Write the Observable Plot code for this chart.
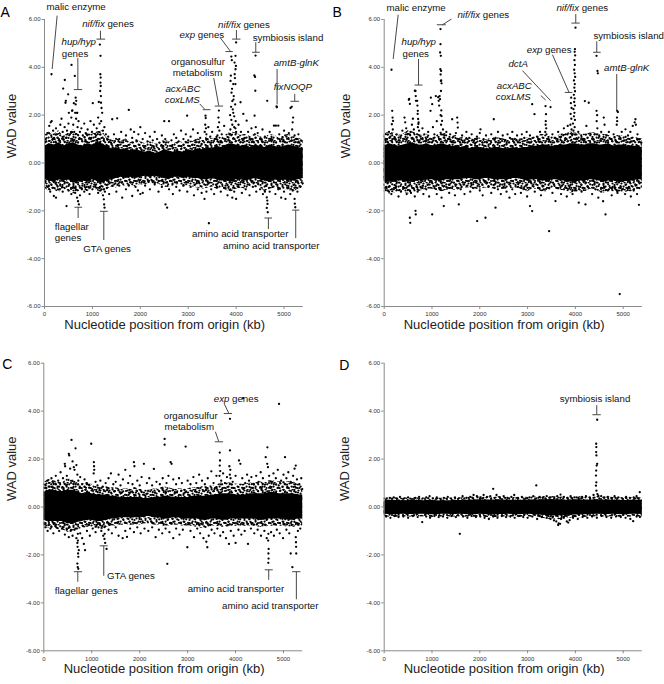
<!DOCTYPE html>
<html><head><meta charset="utf-8">
<script src="https://cdn.jsdelivr.net/npm/d3@7"></script>
<script src="https://cdn.jsdelivr.net/npm/@observablehq/plot@0.6"></script>
<style>
body{margin:0;background:#fff;}
#wrap{position:relative;width:664px;height:684px;background:#fff;}
.panel{position:absolute;width:332px;height:342px;}
</style></head><body><div id="wrap"></div>
<script>
// ---------- shared ticks / titles ----------
const kbTicks = [0,1000,2000,3000,4000,5000];
const wadTicks = [-6,-4,-2,0,2,4,6];
const xTitle = "Nucleotide position from origin (kb)";
const yTitle = "WAD value";

// sampling grid (kb) for the envelope of the dense cloud of genes
const coreKb = [0,100,200,300,400,500,600,700,800,900,1000,1100,1200,1300,1400,1500,1600,1700,1800,1900,2000,2100,2200,2300,2400,2500,2600,2700,2800,2900,3000,3100,3200,3300,3400,3500,3600,3700,3800,3900,4000,4100,4200,4300,4400,4500,4600,4700,4800,4900,5000,5100,5200,5300,5400];

// ---------- panel A ----------
const coreHiA = [0.7,0.8,0.75,0.85,0.7,0.8,0.85,0.75,0.7,0.8,0.75,0.85,0.8,0.7,0.6,0.65,0.55,0.6,0.5,0.55,0.5,0.45,0.5,0.4,0.45,0.55,0.5,0.45,0.5,0.45,0.55,0.5,0.6,0.55,0.65,0.6,0.7,0.65,0.75,0.8,0.75,0.7,0.75,0.65,0.75,0.7,0.65,0.75,0.7,0.65,0.7,0.75,0.7,0.65,0.6];
const coreLoA = [-0.7,-0.75,-0.8,-0.7,-0.75,-0.7,-0.85,-0.8,-0.75,-0.8,-0.7,-0.75,-0.85,-0.75,-0.7,-0.65,-0.6,-0.65,-0.6,-0.65,-0.6,-0.55,-0.6,-0.55,-0.6,-0.65,-0.7,-0.6,-0.6,-0.65,-0.6,-0.65,-0.65,-0.7,-0.7,-0.65,-0.7,-0.75,-0.75,-0.8,-0.7,-0.7,-0.75,-0.7,-0.65,-0.7,-0.75,-0.8,-0.7,-0.75,-0.7,-0.75,-0.75,-0.7,-0.65];
const haloHiA = [1.15,1.3,1.2,1.35,1.1,1.25,1.4,1.2,1.1,1.25,1.2,1.3,1.35,1.05,0.95,1.05,0.9,1.0,0.85,0.95,0.9,0.8,0.9,0.8,0.85,0.95,0.9,0.8,0.9,0.85,0.95,0.9,1.0,0.95,1.1,1.0,1.15,1.05,1.2,1.3,1.25,1.15,1.2,1.1,1.2,1.1,1.05,1.2,1.15,1.05,1.15,1.2,1.1,1.05,0.95];
const haloLoA = [-1.05,-1.2,-1.1,-1.25,-1.05,-1.15,-1.3,-1.2,-1.1,-1.2,-1.05,-1.15,-1.3,-1.1,-1.0,-1.05,-0.9,-1.0,-0.95,-1.0,-0.9,-0.95,-0.85,-0.9,-0.9,-1.0,-1.05,-0.95,-0.9,-1.0,-0.95,-1.0,-1.05,-1.1,-1.05,-1.0,-1.1,-1.05,-1.15,-1.2,-1.1,-1.05,-1.1,-1.0,-1.05,-1.0,-1.2,-1.1,-1.05,-1.15,-1.1,-1.15,-1.2,-1.1,-1.0];
const ptsA = [
[146,3.71],[564,4.1],[633,3.64],[424,3.47],[390,3.11],[494,2.87],[438,2.52],[612,2.5],[662,2.6],[650,2.73],[577,2.18],[682,2.1],
[60,1.25],[100,1.55],[130,1.7],[150,1.75],[180,1.35],[200,1.05],[240,1.45],[260,1.2],[300,1.0],[330,1.6],[355,1.85],[380,1.3],[400,1.1],[420,1.5],[445,2.6],[470,1.35],[500,1.65],[508,2.1],[530,1.2],[560,1.9],[580,2.2],[600,1.6],[640,2.1],[650,2.45],[660,1.85],[680,2.1],[690,1.5],[710,1.75],[740,1.3],[770,1.45],[800,1.15],[830,1.65],[860,1.25],[900,1.4],[940,1.05],[960,1.75],[990,1.3],[1008,2.5],[1030,1.6],[1060,1.2],[1090,1.45],[1120,1.9],[1134,2.55],[1150,1.65],[1183,1.75],[1204,2.1],[1220,1.35],[1250,1.5],[1280,1.2],
[1155,4.95],[1169,4.48],[1165,3.71],[1172,3.57],[1168,3.36],[1175,3.22],[1162,3.01],[1178,2.8],[1180,2.52],[1190,2.3],
[1330,1.1],[1380,0.95],[1413,1.83],[1450,1.2],[1517,1.87],[1560,1.0],[1600,1.3],[1650,0.95],[1700,1.15],[1760,2.22],[1800,1.4],[1830,1.05],[1870,1.3],[1920,0.95],[1960,1.2],[2000,1.5],[2050,1.0],[2100,1.25],[2150,0.9],[2200,1.1],[2260,0.95],[2300,1.3],[2350,1.0],[2400,0.85],[2450,1.15],[2500,1.75],[2520,1.0],[2600,1.75],[2650,0.95],[2700,1.2],[2750,1.05],[2800,0.9],[2850,1.35],[2900,1.0],[2950,1.2],[2977,1.98],[3000,0.95],[3050,1.1],[3100,1.4],[3150,0.95],[3200,1.25],[3250,1.05],
[3361,1.98],[3365,1.88],[3355,1.6],[3370,1.45],[3345,1.3],[3380,1.2],[3640,2.19],[3630,1.9],[3645,1.7],[3620,1.5],[3650,1.35],[3610,1.15],[3420,1.5],[3460,1.1],[3500,1.3],[3550,1.0],[3700,1.2],[3750,1.55],
[3900,4.45],[3987,4.48],[3967,4.2],[3995,4.06],[3987,3.92],[3970,3.71],[3883,3.43],[3940,3.3],[3985,3.3],[3904,2.94],[3950,2.8],[3920,2.59],[3980,2.45],[3930,2.24],[3940,2.1],[3960,1.95],[3900,1.8],[3990,1.75],[3920,1.6],[3960,1.5],[3880,1.4],[4000,1.3],[3860,1.2],[4000,5.04],[3910,4.3],[3890,3.65],[3975,3.55],[3915,3.1],[3895,2.35],[3945,2.65],[3875,2.0],[3985,1.45],
[4092,2.54],[4050,1.6],[4100,1.3],[4150,2.05],[4180,1.05],[4220,1.77],[4250,1.3],[4280,1.0],[4320,1.45],
[4405,4.49],[4380,3.66],[4395,3.6],[4400,3.02],[4385,1.98],[4410,1.5],[4390,1.2],
[4450,1.25],[4500,1.0],[4550,1.4],[4600,1.1],[4649,2.6],[4700,1.3],[4740,1.0],[4790,1.56],[4844,2.37],[4850,2.33],[4830,1.56],[4880,1.56],[4900,1.2],[4950,1.0],[5000,1.35],[5050,1.1],[5100,1.25],[5136,2.3],[5160,2.35],[5190,1.9],[5180,1.7],[5170,1.4],[5220,1.15],[5260,1.0],[5300,1.2],[5350,0.95],
[60,-1.0],[120,-1.2],[195,-1.38],[240,-1.45],[280,-1.1],[330,-0.95],[380,-1.2],[420,-1.05],[460,-1.8],[500,-1.15],[560,-1.3],[600,-1.0],[640,-1.25],[680,-1.45],[700,-1.6],[717,-1.73],[740,-1.35],[780,-1.1],[830,-1.2],[880,-1.0],[940,-1.3],[1000,-1.1],[1060,-1.0],[1120,-1.25],[1190,-1.1],[1220,-1.35],[1238,-1.52],[1245,-1.73],[1253,-1.87],[1260,-1.2],[1300,-1.05],[1350,-1.3],[1420,-0.95],[1500,-1.2],[1560,-0.95],[1622,-1.45],[1700,-1.1],[1760,-0.95],[1831,-1.38],[1900,-1.0],[1950,-1.15],[2000,-1.3],[2050,-1.25],[2100,-0.95],[2200,-1.1],[2300,-0.9],[2380,-1.2],[2450,-1.0],[2526,-1.73],[2560,-1.87],[2600,-1.1],[2680,-1.3],[2750,-1.0],[2820,-1.15],[2900,-0.95],[2980,-1.2],[3050,-1.0],[3120,-1.35],[3200,-1.1],[3280,-1.25],[3340,-1.5],[3380,-1.2],[3431,-2.52],[3480,-1.1],[3540,-1.3],[3600,-1.0],[3680,-1.2],[3750,-1.05],[3820,-1.35],[3880,-1.1],[3920,-1.45],[3960,-1.2],[4000,-1.5],[4050,-1.0],[4120,-1.25],[4200,-1.1],[4280,-1.35],[4350,-1.0],[4420,-1.2],[4500,-1.1],[4560,-1.3],[4600,-1.2],[4640,-1.44],[4650,-1.57],[4655,-1.71],[4640,-1.88],[4660,-2.06],[4700,-1.2],[4760,-1.0],[4820,-1.3],[4880,-1.1],[4940,-1.45],[5000,-1.2],[5030,-1.5],[5080,-1.05],[5130,-1.3],[5180,-1.15],[5220,-1.5],[5225,-1.7],[5235,-1.85],[5280,-1.2],[5340,-1.0]
];
const fringeA = [[30,0.9],[90,-0.95],[170,1.0],[250,-0.9],[310,0.95],[370,-1.0],[450,1.05],[520,-0.9],[590,0.95],[650,-1.05],[720,1.0],[790,-0.95],[850,0.9],[920,-1.0],[980,1.05],[1040,-0.9],[1100,0.95],[1160,-1.0],[1240,1.0],[1320,-0.9],[1400,0.8],[1480,-0.85],[1550,0.75],[1620,-0.8],[1720,0.7],[1790,-0.8],[1880,0.7],[1980,-0.75],[2080,0.65],[2180,-0.75],[2280,0.65],[2380,-0.75],[2480,0.7],[2560,-0.8],[2660,0.7],[2760,-0.8],[2860,0.7],[2960,-0.8],[3080,0.75],[3180,-0.85],[3280,0.8],[3400,-0.9],[3480,0.85],[3580,-0.9],[3680,0.9],[3780,-0.95],[3840,0.95],[4020,-0.9],[4140,0.95],[4240,-0.9],[4340,0.9],[4460,-0.85],[4540,0.9],[4620,-0.95],[4720,0.95],[4860,-0.9],[4980,0.9],[5060,-0.95],[5160,0.95],[5240,-0.95],[5320,0.85],[5390,-0.85]];
const labelsA = [
{kb:42,wad:6.51,text:"malic enzyme"},
{kb:355,wad:5.05,text:"*hup/hyp*"},
{kb:362,wad:4.56,text:"genes"},
{kb:786,wad:5.81,text:"*nif/fix* genes"},
{kb:216,wad:-2.66,text:"flagellar"},
{kb:216,wad:-3.14,text:"genes"},
{kb:807,wad:-3.6,text:"GTA genes"},
{kb:2817,wad:5.37,text:"*exp* genes"},
{kb:3624,wad:5.78,text:"*nif/fix* genes"},
{kb:4347,wad:5.25,text:"symbiosis island"},
{kb:2643,wad:4.21,text:"organosulfur"},
{kb:2678,wad:3.75,text:"metabolism"},
{kb:2525,wad:3.09,text:"*acxABC*"},
{kb:2511,wad:2.63,text:"*coxLMS*"},
{kb:4785,wad:4.18,text:"*amtB-glnK*"},
{kb:4785,wad:3.19,text:"*fixNOQP*"},
{kb:3081,wad:-2.97,text:"amino acid transporter"},
{kb:3728,wad:-3.46,text:"amino acid transporter"}
];
const linesA = [
[264,6.16,160,3.93],
[696,4.39,696,3.07],[612,3.07,786,3.07],
[1168,5.53,1168,5.18],[1085,5.18,1266,5.18],
[626,-1.85,786,-1.85],[702,-1.85,702,-2.3],
[1155,-2.02,1321,-2.02],[1238,-2.02,1238,-3.22],
[3672,5.23,3881,4.67],[3777,4.66,3930,4.66],
[4006,5.56,4006,5.18],[3916,5.18,4090,5.18],
[4410,5.05,4410,4.63],[4333,4.63,4493,4.63],
[3533,3.55,3637,2.4],[3554,2.38,3728,2.38],
[3241,2.47,3338,2.26],[3304,2.23,3464,2.23],
[4855,3.93,4855,2.45],
[5223,2.89,5223,2.58],[5133,2.58,5314,2.58],
[4590,-2.3,4750,-2.3],[4674,-2.3,4674,-2.76],
[5168,-1.97,5320,-1.97],[5244,-1.97,5244,-3.14]
];

// ---------- panel B ----------
const coreHiB = [0.7,0.8,0.75,0.7,0.75,0.8,0.85,0.75,0.75,0.8,0.7,0.75,0.8,0.75,0.7,0.7,0.65,0.7,0.6,0.65,0.65,0.6,0.6,0.65,0.65,0.6,0.6,0.65,0.6,0.65,0.65,0.7,0.7,0.75,0.75,0.7,0.7,0.75,0.75,0.8,0.8,0.75,0.75,0.8,0.8,0.75,0.75,0.8,0.7,0.75,0.75,0.7,0.7,0.7,0.65];
const coreLoB = [-0.75,-0.8,-0.8,-0.75,-0.75,-0.8,-0.8,-0.75,-0.75,-0.7,-0.7,-0.75,-0.75,-0.7,-0.7,-0.7,-0.7,-0.65,-0.65,-0.7,-0.7,-0.65,-0.65,-0.7,-0.7,-0.7,-0.7,-0.65,-0.65,-0.7,-0.75,-0.7,-0.7,-0.75,-0.75,-0.7,-0.7,-0.75,-0.75,-0.8,-0.8,-0.75,-0.75,-0.7,-0.7,-0.75,-0.8,-0.75,-0.75,-0.8,-0.8,-0.75,-0.75,-0.7,-0.7];
const haloHiB = [1.2,1.3,1.25,1.15,1.2,1.35,1.3,1.2,1.15,1.2,1.1,1.15,1.3,1.2,1.1,1.15,1.05,1.1,1.0,1.05,1.05,0.95,1.0,1.05,1.05,1.0,0.95,1.05,1.0,1.0,1.05,1.1,1.1,1.2,1.15,1.1,1.1,1.2,1.2,1.3,1.25,1.2,1.2,1.25,1.25,1.2,1.2,1.15,1.1,1.15,1.15,1.1,1.1,1.05,1.0];
const haloLoB = [-1.2,-1.3,-1.25,-1.2,-1.2,-1.3,-1.25,-1.2,-1.15,-1.1,-1.1,-1.15,-1.2,-1.15,-1.1,-1.15,-1.1,-1.05,-1.05,-1.1,-1.1,-1.05,-1.05,-1.1,-1.1,-1.1,-1.1,-1.05,-1.05,-1.15,-1.2,-1.1,-1.1,-1.2,-1.2,-1.1,-1.1,-1.15,-1.15,-1.25,-1.25,-1.2,-1.2,-1.1,-1.1,-1.2,-1.25,-1.2,-1.2,-1.25,-1.25,-1.2,-1.2,-1.1,-1.1];
const ptsB = [
[153,3.9],[167,2.18],[175,1.9],[185,1.76],[160,1.62],[180,1.4],[60,1.0],[100,1.3],[130,1.1],[220,1.05],[260,1.2],[300,0.95],[340,1.1],[380,1.35],[424,1.9],[440,1.7],[460,1.45],[480,1.2],[515,2.64],[523,2.68],[537,2.47],[550,1.3],[580,1.6],[600,1.85],[620,1.4],
[641,3.02],[655,3.01],[660,2.8],[665,2.6],[690,2.6],[695,2.4],[703,2.18],[700,2.05],[710,1.84],[715,1.63],[720,1.7],[705,1.5],[730,1.35],[690,1.2],[760,1.1],[800,1.45],[840,1.2],[880,1.0],[920,1.3],[969,2.18],[976,2.73],[1004,2.46],[1020,1.5],[1050,1.2],[1080,2.8],[1100,1.75],[1130,2.75],[1140,2.6],[1150,2.4],
[1178,5.6],[1178,4.97],[1170,4.62],[1185,4.48],[1175,3.92],[1190,3.85],[1180,3.7],[1192,3.45],[1185,3.43],[1200,3.33],[1188,3.01],[1160,2.8],[1168,2.67],[1195,2.2],[1180,2.0],[1200,1.96],[1210,1.76],[1190,1.6],[1230,1.4],[1260,1.15],
[1300,1.3],[1340,1.0],[1380,1.2],[1422,1.83],[1450,1.1],[1500,1.25],[1527,1.9],[1535,1.69],[1540,1.48],[1580,1.0],[1630,1.15],[1680,0.95],[1720,1.3],[1780,1.05],[1830,1.2],[1880,0.95],[1940,1.1],[2000,1.25],[2015,1.41],[2080,1.0],[2130,1.15],[2180,0.95],[2240,1.2],[2293,1.83],[2330,1.05],[2380,1.3],[2430,1.0],[2480,1.15],[2530,0.95],[2580,1.2],[2630,1.05],[2680,1.3],[2730,1.0],[2780,1.15],[2830,0.95],[2880,1.2],[2930,1.05],[2980,1.3],[3050,1.15],[3096,2.46],[3144,2.04],[3200,1.1],[3260,1.3],
[3375,2.38],[3480,2.34],[3385,2.04],[3380,1.75],[3378,1.6],[3390,1.45],[3370,1.3],[3395,1.2],[3420,1.0],[3520,1.2],[3580,1.05],[3640,1.3],[3700,1.1],[3760,1.45],[3800,1.2],[3840,1.55],
[4002,5.66],[3990,4.76],[3985,4.65],[3995,4.5],[3980,4.3],[3990,4.1],[3975,3.9],[3985,3.75],[3995,3.6],[3970,3.45],[3988,3.3],[3978,3.15],[3992,3.0],[3968,2.85],[3985,2.7],[3975,2.55],[3990,2.4],[3960,2.25],[3980,2.1],[3970,1.95],[3990,1.8],[3950,1.65],[3985,1.5],[3960,1.35],[3998,1.2],
[3912,2.73],[3905,2.5],[3920,2.3],[3900,2.05],[3915,1.85],[3895,1.6],[3920,1.4],[3930,1.2],
[4060,1.3],[4120,1.0],[4198,2.59],[4230,1.55],[4280,2.52],[4320,1.2],
[4442,4.48],[4462,3.85],[4470,3.75],[4442,2.18],[4455,2.0],[4445,1.75],[4460,1.45],
[4500,1.1],[4540,1.3],[4594,1.9],[4610,1.6],[4650,1.15],[4700,1.3],[4750,1.0],[4800,1.2],[4874,2.18],[4890,2.13],[4870,1.9],[4875,1.75],[4865,1.6],[4920,1.1],[4970,1.3],[5048,1.41],[5100,1.15],[5150,1.3],[5200,1.55],[5240,1.7],[5257,1.83],[5265,1.6],[5300,1.2],[5350,1.0],
[40,-1.0],[100,-1.2],[150,-1.3],[200,-1.1],[250,-1.0],[300,-1.4],[350,-1.2],[420,-1.05],[470,-1.3],[536,-2.29],[545,-2.5],[560,-1.25],[600,-1.05],[640,-1.4],[655,-2.0],[660,-2.15],[700,-1.2],[760,-1.0],[820,-1.3],[880,-1.1],[940,-1.4],[1004,-2.15],[1050,-1.05],[1100,-1.3],[1160,-1.1],[1200,-1.45],[1247,-1.8],[1300,-1.0],[1360,-1.25],[1420,-1.05],[1480,-1.35],[1561,-1.73],[1600,-1.1],[1680,-1.3],[1740,-0.95],[1800,-1.2],[1860,-1.05],[1945,-2.43],[2000,-1.15],[2060,-1.35],[2119,-2.29],[2180,-1.0],[2240,-1.25],[2329,-1.87],[2380,-1.1],[2440,-1.3],[2500,-1.0],[2560,-1.2],[2620,-1.45],[2680,-1.1],[2740,-1.3],[2800,-1.0],[2860,-1.25],[2920,-1.05],[2990,-1.4],[3050,-1.8],[3096,-2.01],[3150,-1.2],[3220,-1.05],[3280,-1.35],[3340,-1.1],[3450,-2.85],[3520,-1.25],[3584,-1.59],[3640,-1.05],[3700,-1.3],[3760,-1.1],[3820,-1.4],[3880,-1.05],[3940,-1.3],[4000,-1.1],[4071,-1.66],[4130,-1.2],[4211,-1.73],[4280,-1.05],[4350,-1.3],[4420,-1.1],[4480,-1.45],[4540,-1.2],[4580,-1.6],[4630,-2.15],[4700,-1.1],[4760,-1.35],[4820,-1.05],[4880,-1.25],[4928,-5.48],[4980,-1.1],[5040,-1.3],[5100,-1.05],[5160,-1.4],[5220,-1.15],[5290,-1.3],[5330,-1.75],[5340,-1.05]
];
const fringeB = [[30,0.95],[90,-1.0],[170,1.0],[240,-0.95],[320,0.95],[400,-1.0],[470,1.0],[520,-0.95],[590,1.05],[680,-1.0],[740,0.95],[810,-0.95],[870,0.9],[950,-0.9],[1030,0.95],[1090,-0.95],[1150,1.0],[1220,-0.95],[1280,0.95],[1350,-0.9],[1430,0.9],[1510,-0.9],[1590,0.85],[1660,-0.9],[1740,0.85],[1820,-0.85],[1900,0.8],[1980,-0.9],[2060,0.85],[2140,-0.85],[2220,0.8],[2310,-0.9],[2400,0.85],[2470,-0.9],[2560,0.8],[2640,-0.85],[2720,0.85],[2810,-0.85],[2900,0.8],[2970,-0.95],[3040,0.85],[3120,-0.9],[3230,0.9],[3310,-0.95],[3440,0.9],[3550,-0.9],[3620,0.9],[3720,-0.95],[3780,0.95],[3860,-0.95],[4040,1.0],[4100,-1.0],[4180,0.95],[4260,-1.0],[4360,1.0],[4400,-0.9],[4520,0.95],[4600,-1.0],[4680,0.95],[4780,-1.0],[4850,0.9],[4950,-1.0],[5020,0.95],[5120,-1.0],[5180,0.9],[5260,-0.95],[5380,0.85]];
const labelsB = [
{kb:49,wad:6.48,text:"malic enzyme"},
{kb:362,wad:5.05,text:"*hup/hyp*"},
{kb:383,wad:4.56,text:"genes"},
{kb:1533,wad:6.2,text:"*nif/fix* genes"},
{kb:3603,wad:6.48,text:"*nif/fix* genes"},
{kb:4377,wad:5.32,text:"symbiosis island"},
{kb:2983,wad:4.72,text:"*exp* genes"},
{kb:2600,wad:4.14,text:"*dctA*"},
{kb:2356,wad:3.23,text:"*acxABC*"},
{kb:2335,wad:2.77,text:"*coxLMS*"},
{kb:4600,wad:3.96,text:"*amtB-glnK*"}
];
const linesB = [
[293,6.2,188,4.35],
[718,4.35,718,3.26],[634,3.26,802,3.26],
[1408,6.02,1220,5.78],[1101,5.78,1289,5.78],
[4008,6.23,4008,5.85],[3917,5.85,4091,5.85],
[4447,5.09,4447,4.63],[4370,4.63,4530,4.63],
[3520,4.53,3868,2.95],[3778,2.95,3938,2.95],
[2893,3.86,3485,2.6],
[3276,2.82,3380,2.63],
[4865,3.72,4865,2.19]
];

// ---------- panel C ----------
const coreHiC = [0.6,0.7,0.7,0.65,0.65,0.7,0.7,0.65,0.55,0.6,0.55,0.5,0.5,0.5,0.45,0.45,0.4,0.4,0.4,0.4,0.4,0.35,0.35,0.4,0.4,0.45,0.45,0.4,0.4,0.4,0.4,0.45,0.45,0.45,0.45,0.5,0.5,0.55,0.55,0.55,0.5,0.5,0.5,0.55,0.55,0.55,0.55,0.6,0.6,0.55,0.55,0.55,0.55,0.5,0.5];
const coreLoC = [-0.55,-0.6,-0.6,-0.6,-0.6,-0.7,-0.7,-0.65,-0.6,-0.55,-0.55,-0.6,-0.6,-0.55,-0.5,-0.5,-0.45,-0.45,-0.45,-0.45,-0.45,-0.4,-0.4,-0.45,-0.45,-0.5,-0.5,-0.45,-0.45,-0.5,-0.5,-0.5,-0.5,-0.55,-0.55,-0.5,-0.5,-0.55,-0.55,-0.5,-0.5,-0.5,-0.5,-0.5,-0.5,-0.55,-0.55,-0.5,-0.5,-0.5,-0.5,-0.55,-0.55,-0.5,-0.5];
const haloHiC = [1.0,1.15,1.1,1.05,1.0,1.2,1.15,1.0,0.95,1.0,0.95,0.85,0.85,0.85,0.8,0.8,0.75,0.75,0.75,0.8,0.75,0.7,0.7,0.75,0.75,0.85,0.8,0.75,0.75,0.75,0.75,0.8,0.8,0.85,0.85,0.9,0.9,1.0,1.0,1.0,0.95,0.95,0.95,1.0,1.0,1.05,1.0,1.1,1.1,1.05,1.05,1.05,1.05,0.95,0.9];
const haloLoC = [-0.85,-0.9,-0.9,-0.95,-0.95,-1.05,-1.0,-0.95,-0.9,-0.85,-0.85,-0.9,-0.95,-0.85,-0.8,-0.8,-0.75,-0.75,-0.75,-0.75,-0.75,-0.7,-0.7,-0.75,-0.75,-0.8,-0.8,-0.75,-0.75,-0.8,-0.8,-0.8,-0.85,-0.9,-0.9,-0.8,-0.8,-0.85,-0.85,-0.8,-0.8,-0.8,-0.8,-0.8,-0.8,-0.85,-0.85,-0.8,-0.8,-0.8,-0.8,-0.85,-0.85,-0.8,-0.8];
const ptsC = [
[40,0.9],[80,1.1],[120,0.85],[160,1.2],[200,1.0],[250,1.3],[300,1.1],[350,1.45],[400,1.2],[438,1.8],[445,1.7],[480,1.3],[522,2.22],[530,2.15],[550,1.6],[578,2.8],[600,1.9],[626,1.66],[640,1.55],[662,2.45],[680,1.75],[700,1.35],[720,1.1],[760,1.25],[800,0.95],[850,1.15],[900,1.0],[950,0.9],[989,2.64],[1044,1.87],[1048,1.7],[1052,1.55],[1040,1.4],[1080,1.05],[1120,0.9],[1180,1.1],[1230,0.85],[1290,1.0],[1350,1.2],[1400,1.4],[1450,0.95],[1500,1.05],[1560,1.35],[1600,0.9],[1650,1.15],[1700,1.55],[1760,1.0],[1800,1.3],[1850,0.95],[1879,1.87],[1890,1.7],[1950,1.1],[2000,0.9],[2040,1.25],[2088,1.8],[2150,1.0],[2200,1.2],[2260,0.9],[2296,1.59],[2350,1.05],[2420,0.95],[2480,1.2],[2520,2.84],[2520,2.6],[2560,1.0],[2600,1.3],[2645,1.87],[2665,1.8],[2700,1.15],[2760,0.95],[2820,1.2],[2880,1.0],[2958,2.52],[3000,1.1],[3060,0.95],[3120,1.25],[3180,1.0],[3240,1.35],[3300,1.1],[3360,0.95],[3420,1.2],[3494,1.49],[3540,1.0],[3600,1.3],[3675,1.94],[3670,1.73],[3680,1.5],[3665,1.3],[3670,2.27],[3700,1.1],[3740,1.4],[3780,1.0],[3820,1.25],[3883,3.68],[3883,2.36],[3870,1.7],[3890,1.55],[3880,1.35],[3895,1.2],[3940,1.05],[4000,1.3],[4071,1.94],[4100,1.8],[4140,1.2],[4156,4.54],[4200,1.0],[4240,1.35],[4280,1.1],[4330,1.25],[4380,0.95],[4430,1.3],[4480,1.05],[4524,1.45],[4570,1.2],[4628,2.08],[4664,2.49],[4660,1.8],[4675,1.66],[4700,1.3],[4740,1.05],[4790,1.4],[4840,1.2],[4880,1.55],[4906,4.3],[4950,1.1],[5000,1.35],[5031,2.08],[5060,1.2],[5100,1.45],[5150,1.05],[5200,1.3],[5255,1.73],[5230,1.6],[5280,1.15],[5330,0.95],[5370,1.2],
[30,-0.85],[80,-1.0],[140,-0.9],[200,-1.1],[260,-0.85],[320,-1.0],[380,-0.9],[440,-1.15],[480,-0.95],[522,-1.26],[560,-1.0],[600,-1.2],[640,-0.95],[680,-1.3],[700,-1.5],[710,-1.12],[712,-1.4],[705,-1.66],[715,-1.94],[720,-2.08],[700,-2.36],[708,-2.51],[720,-2.58],[730,-1.8],[760,-1.1],[800,-1.3],[835,-1.54],[860,-1.8],[900,-1.0],[960,-1.2],[1020,-0.9],[1080,-1.05],[1140,-0.85],[1200,-1.0],[1240,-1.2],[1267,-0.84],[1270,-1.12],[1265,-1.33],[1280,-1.5],[1309,-1.75],[1350,-0.95],[1420,-1.1],[1500,-0.85],[1560,-1.2],[1645,-1.3],[1700,-1.0],[1735,-1.25],[1800,-0.9],[1880,-1.05],[1950,-0.85],[2020,-1.1],[2100,-0.9],[2180,-1.0],[2260,-0.85],[2332,-1.26],[2400,-0.95],[2470,-1.1],[2540,-0.9],[2576,-2.37],[2620,-1.05],[2700,-1.3],[2760,-0.9],[2830,-1.15],[2900,-0.95],[2994,-1.68],[3060,-1.0],[3132,-1.26],[3200,-0.9],[3260,-1.1],[3330,-1.3],[3390,-1.45],[3411,-1.68],[3440,-1.2],[3500,-0.95],[3560,-1.1],[3620,-0.9],[3680,-1.2],[3740,-1.05],[3800,-1.3],[3862,-1.54],[3900,-1.0],[3960,-1.2],[4000,-1.5],[4060,-0.95],[4120,-1.15],[4190,-1.0],[4259,-1.54],[4320,-0.9],[4390,-1.1],[4460,-0.95],[4530,-1.2],[4600,-1.0],[4650,-1.3],[4685,-1.12],[4680,-1.4],[4690,-1.75],[4685,-1.94],[4688,-2.15],[4683,-2.33],[4740,-1.05],[4800,-1.2],[4860,-0.95],[4920,-1.1],[4990,-1.3],[5060,-0.95],[5120,-1.1],[5150,-1.94],[5185,-2.51],[5255,-1.26],[5260,-1.47],[5262,-1.66],[5265,-1.94],[5300,-1.0],[5350,-0.9]
];
const fringeC = [[30,0.8],[100,-0.75],[180,0.85],[240,-0.8],[320,0.85],[410,-0.85],[470,0.9],[540,-0.85],[620,0.95],[690,-0.9],[750,0.85],[820,-0.8],[880,0.8],[940,-0.75],[1010,0.75],[1100,-0.75],[1160,0.7],[1220,-0.8],[1320,0.7],[1380,-0.7],[1470,0.65],[1540,-0.65],[1620,0.6],[1690,-0.65],[1780,0.6],[1860,-0.65],[1920,0.6],[2060,-0.6],[2140,0.55],[2240,-0.6],[2320,0.6],[2440,-0.65],[2540,0.65],[2660,-0.7],[2740,0.6],[2860,-0.65],[2940,0.6],[3040,-0.7],[3160,0.65],[3280,-0.7],[3380,0.7],[3470,-0.75],[3560,0.75],[3640,-0.7],[3720,0.75],[3840,-0.75],[3920,0.8],[4040,-0.7],[4160,0.75],[4260,-0.7],[4360,0.8],[4450,-0.7],[4560,0.85],[4620,-0.75],[4720,0.85],[4820,-0.7],[4900,0.9],[5000,-0.7],[5080,0.85],[5170,-0.75],[5240,0.85],[5320,-0.7],[5390,0.75]];
const labelsC = [
{kb:3545,wad:4.5,text:"*exp* genes"},
{kb:2502,wad:3.8,text:"organosulfur"},
{kb:2516,wad:3.35,text:"metabolism"},
{kb:229,wad:-3.5,text:"flagellar genes"},
{kb:1320,wad:-2.87,text:"GTA genes"},
{kb:3002,wad:-3.4,text:"amino acid transporter"},
{kb:3718,wad:-4.12,text:"amino acid transporter"}
];
const linesC = [
[3767,4.29,3857,3.92],[3753,3.9,3927,3.9],
[3579,3.14,3649,2.73],[3565,2.72,3739,2.72],
[626,-2.7,799,-2.7],[709,-2.7,709,-3.12],
[1168,-1.62,1334,-1.62],[1251,-1.62,1251,-2.87],
[4608,-2.62,4775,-2.62],[4691,-2.62,4691,-3.04],
[5178,-2.7,5352,-2.7],[5268,-2.7,5268,-3.85]
];

// ---------- panel D ----------
const coreHiD = [0.25,0.27,0.28,0.26,0.27,0.26,0.28,0.27,0.26,0.27,0.27,0.26,0.25,0.26,0.26,0.27,0.27,0.28,0.28,0.29,0.3,0.29,0.28,0.29,0.3,0.29,0.28,0.28,0.27,0.28,0.28,0.29,0.29,0.3,0.3,0.31,0.3,0.3,0.28,0.29,0.3,0.3,0.28,0.28,0.3,0.3,0.29,0.29,0.28,0.28,0.27,0.27,0.28,0.28,0.27];
const coreLoD = [-0.3,-0.31,-0.32,-0.31,-0.3,-0.31,-0.31,-0.3,-0.3,-0.31,-0.32,-0.32,-0.3,-0.3,-0.31,-0.31,-0.3,-0.31,-0.32,-0.32,-0.3,-0.31,-0.33,-0.33,-0.31,-0.31,-0.3,-0.31,-0.32,-0.31,-0.3,-0.31,-0.33,-0.34,-0.35,-0.37,-0.38,-0.37,-0.35,-0.34,-0.33,-0.33,-0.32,-0.31,-0.3,-0.3,-0.31,-0.31,-0.3,-0.31,-0.32,-0.31,-0.3,-0.3,-0.31];
const haloHiD = [0.36,0.38,0.39,0.37,0.38,0.37,0.39,0.38,0.37,0.39,0.38,0.37,0.36,0.38,0.37,0.38,0.38,0.4,0.41,0.42,0.43,0.42,0.41,0.42,0.43,0.42,0.4,0.4,0.39,0.4,0.41,0.42,0.42,0.43,0.43,0.44,0.43,0.42,0.4,0.41,0.42,0.43,0.41,0.4,0.43,0.44,0.42,0.41,0.4,0.4,0.39,0.39,0.4,0.4,0.38];
const haloLoD = [-0.4,-0.42,-0.43,-0.42,-0.41,-0.42,-0.42,-0.41,-0.41,-0.42,-0.43,-0.43,-0.41,-0.41,-0.42,-0.42,-0.41,-0.42,-0.43,-0.43,-0.41,-0.42,-0.45,-0.45,-0.42,-0.42,-0.41,-0.42,-0.43,-0.42,-0.41,-0.42,-0.45,-0.47,-0.5,-0.52,-0.53,-0.52,-0.49,-0.47,-0.45,-0.45,-0.43,-0.42,-0.41,-0.41,-0.42,-0.42,-0.41,-0.42,-0.43,-0.42,-0.41,-0.41,-0.42];
const ptsD = [
[50,0.35],[120,0.38],[200,0.4],[270,0.35],[330,0.42],[420,0.36],[500,0.4],[580,0.33],[650,0.38],[730,0.42],[800,0.35],[880,0.4],[950,0.45],[1020,0.36],[1100,0.4],[1180,0.33],[1250,0.38],[1330,0.42],[1400,0.35],[1480,0.4],[1560,0.36],[1640,0.45],[1720,0.38],[1800,0.42],[1870,0.5],[1940,0.45],[2010,0.38],[2080,0.5],[2150,0.42],[2220,0.45],[2280,0.76],[2350,0.5],[2420,0.4],[2500,0.45],[2580,0.38],[2660,0.42],[2720,0.5],[2800,0.38],[2880,0.42],[2960,0.35],[3040,0.4],[3120,0.45],[3182,0.9],[3250,0.42],[3320,0.38],[3400,0.45],[3480,0.4],[3560,0.38],[3620,0.45],[3690,0.52],[3760,0.42],[3830,0.38],[3900,0.45],[3980,0.4],[4060,0.38],[4140,0.42],[4220,0.45],[4300,0.4],[4380,0.5],
[4456,3.64],[4435,2.64],[4438,2.5],[4435,2.29],[4440,2.15],[4456,1.8],[4445,1.73],[4435,1.52],[4430,1.31],[4438,1.03],[4430,0.89],[4440,0.68],[4460,0.54],[4480,0.47],
[4540,0.45],[4600,0.4],[4680,0.42],[4750,0.38],[4820,0.45],[4900,0.4],[4980,0.35],[5060,0.42],[5140,0.38],[5220,0.4],[5280,0.45],[5347,0.62],[5320,0.35],
[40,-0.4],[130,-0.45],[220,-0.38],[300,-0.42],[400,-0.4],[500,-0.45],[600,-0.38],[700,-0.42],[795,-0.63],[880,-0.4],[960,-0.45],[1050,-0.38],[1140,-0.42],[1230,-0.4],[1320,-0.45],[1410,-0.38],[1500,-0.42],[1582,-1.12],[1650,-0.4],[1740,-0.45],[1830,-0.38],[1920,-0.42],[2010,-0.4],[2100,-0.45],[2190,-0.5],[2280,-0.4],[2370,-0.45],[2460,-0.38],[2550,-0.42],[2640,-0.4],[2730,-0.45],[2820,-0.38],[2910,-0.42],[3000,-0.45],[3100,-0.4],[3200,-0.5],[3300,-0.42],[3400,-0.45],[3480,-0.5],[3552,-0.56],[3600,-0.6],[3640,-0.75],[3650,-0.68],[3680,-0.7],[3700,-0.5],[3760,-0.45],[3820,-0.6],[3850,-0.65],[3880,-0.55],[3950,-0.45],[4050,-0.5],[4150,-0.42],[4250,-0.45],[4350,-0.4],[4450,-0.45],[4550,-0.38],[4650,-0.42],[4750,-0.45],[4850,-0.4],[4950,-0.42],[5050,-0.45],[5150,-0.5],[5209,-0.59],[5280,-0.4],[5350,-0.42]
];
const fringeD = [];
const labelsD = [{kb:3673,wad:4.5,text:"symbiosis island"}];
const linesD = [[4447,4.25,4447,3.87],[4356,3.85,4531,3.85]];

// ---------- drawing ----------
function band(hi, lo) { return coreKb.map((k, i) => ({kb: k, hi: hi[i], lo: lo[i]})); }

function italicize(svg) {
  const ns = "http://www.w3.org/2000/svg";
  svg.querySelectorAll("text").forEach(el => {
    const s = el.textContent;
    if (!s.includes("*")) return;
    el.textContent = "";
    s.split("*").forEach((part, i) => {
      if (!part) return;
      const t = document.createElementNS(ns, "tspan");
      if (i % 2 === 1) t.setAttribute("font-style", "italic");
      t.textContent = part;
      el.appendChild(t);
    });
  });
}

// speckle textures standing in for the densely overlapping gene dots at the cloud's edge
function addPatterns(svg, id) {
  const ns = "http://www.w3.org/2000/svg";
  const defs = document.createElementNS(ns, "defs");
  const specs = [
    {w: 9, h: 7, c: [[1.5,1.5],[6.2,2.3],[3.6,4.6],[8.1,5.8],[0.6,6.2],[4.6,0.4]]},
    {w: 11, h: 8, c: [[2.5,2.0],[7.5,1.0],[5.0,5.0],[9.8,6.2],[1.0,6.5],[8.4,3.8]]}
  ];
  specs.forEach((s, k) => {
    const p = document.createElementNS(ns, "pattern");
    p.setAttribute("id", id + k);
    p.setAttribute("patternUnits", "userSpaceOnUse");
    p.setAttribute("width", s.w);
    p.setAttribute("height", s.h);
    s.c.forEach(([cx, cy]) => {
      const c = document.createElementNS(ns, "circle");
      c.setAttribute("cx", cx); c.setAttribute("cy", cy); c.setAttribute("r", 1.1);
      c.setAttribute("fill", "#000");
      p.appendChild(c);
    });
    defs.appendChild(p);
  });
  svg.insertBefore(defs, svg.firstChild);
}

function panel(o) {
  const axisGray = "#8a8a8a";
  const pid = "spk" + o.letter;
  const chart = Plot.plot({
    width: 332, height: 342,
    marginLeft: o.ml, marginRight: o.mr, marginTop: o.mt, marginBottom: o.mb,
    x: {domain: [0, 5400]},
    y: {domain: [-6, 6]},
    style: {fontFamily: "'Liberation Sans', Arial, sans-serif", fontSize: "10px", color: "#222", background: "#fff", overflow: "visible"},
    marks: [
      Plot.areaY(band(o.haloHi, o.haloLo), {x: "kb", y1: "lo", y2: "hi", fill: `url(#${pid}0)`}),
      Plot.areaY(band(o.haloHi, o.haloLo), {x: "kb", y1: "lo", y2: "hi", fill: `url(#${pid}1)`}),
      Plot.areaY(band(o.coreHi, o.coreLo), {x: "kb", y1: "lo", y2: "hi", fill: "#000"}),
      Plot.dot(o.fringe, {x: d => d[0], y: d => d[1], r: 1.15, fill: "#000"}),
      Plot.dot(o.pts, {x: d => d[0], y: d => d[1], r: 1.15, fill: "#000"}),
      Plot.ruleX([0], {y1: -6, y2: 6, stroke: axisGray}),
      Plot.ruleY([-6], {x1: 0, x2: 5400, stroke: axisGray}),
      Plot.axisY({ticks: wadTicks, tickFormat: d => d.toFixed(2), tickSize: 2.5, tickPadding: 1.5, fontSize: 6, label: null, stroke: axisGray, fill: "#333"}),
      Plot.axisX({ticks: kbTicks, tickFormat: d => String(d), tickSize: 3, tickPadding: 2.5, fontSize: 6, label: null, stroke: axisGray, fill: "#333"}),
      Plot.link(o.lines, {x1: d => d[0], y1: d => d[1], x2: d => d[2], y2: d => d[3], stroke: "#333", strokeWidth: 0.9}),
      Plot.text(o.labels, {x: "kb", y: "wad", text: "text", textAnchor: "start", fontSize: 9.7, fill: "#111"}),
      Plot.text([xTitle], {text: d => d, x: 2510, frameAnchor: "bottom", dy: o.xdy, fontSize: 13, fill: "#222"}),
      Plot.text([yTitle], {text: d => d, y: o.yc, frameAnchor: "left", dx: o.ydx, rotate: -90, fontSize: 13, fill: "#222"}),
      Plot.text([o.letter], {text: d => d, frameAnchor: "top-left", dx: o.ldx, dy: o.ldy, textAnchor: "start", fontSize: 14, fill: "#000"})
    ]
  });
  addPatterns(chart, pid);
  italicize(chart);
  const div = document.createElement("div");
  div.className = "panel";
  div.style.left = o.left + "px";
  div.style.top = o.top + "px";
  div.appendChild(chart);
  document.getElementById("wrap").appendChild(div);
}

panel({letter: "A", left: 0, top: 0, ml: 44, mr: 29.3, mt: 19, mb: 36, xdy: 22, ydx: -32.3, yc: 0.2, ldx: -44, ldy: -12.3,
  pts: ptsA, fringe: fringeA, coreHi: coreHiA, coreLo: coreLoA, haloHi: haloHiA, haloLo: haloLoA, labels: labelsA, lines: linesA});
panel({letter: "B", left: 332, top: 0, ml: 51.7, mr: 22.2, mt: 19, mb: 36, xdy: 22, ydx: -38.4, yc: 0.2, ldx: -51.7, ldy: -12.3,
  pts: ptsB, fringe: fringeB, coreHi: coreHiB, coreLo: coreLoB, haloHi: haloHiB, haloLo: haloLoB, labels: labelsB, lines: linesB});
panel({letter: "C", left: 0, top: 342, ml: 43.3, mr: 29.8, mt: 20.7, mb: 33.7, xdy: 22, ydx: -31.6, yc: 0.25, ldx: -41.6, ldy: -3.7,
  pts: ptsC, fringe: fringeC, coreHi: coreHiC, coreLo: coreLoC, haloHi: haloHiC, haloLo: haloLoC, labels: labelsC, lines: linesC});
panel({letter: "D", left: 332, top: 342, ml: 51.7, mr: 22.2, mt: 20.7, mb: 33.7, xdy: 22, ydx: -39, yc: 0.25, ldx: -45, ldy: -3.5,
  pts: ptsD, fringe: fringeD, coreHi: coreHiD, coreLo: coreLoD, haloHi: haloHiD, haloLo: haloLoD, labels: labelsD, lines: linesD});
</script>
</body></html>
